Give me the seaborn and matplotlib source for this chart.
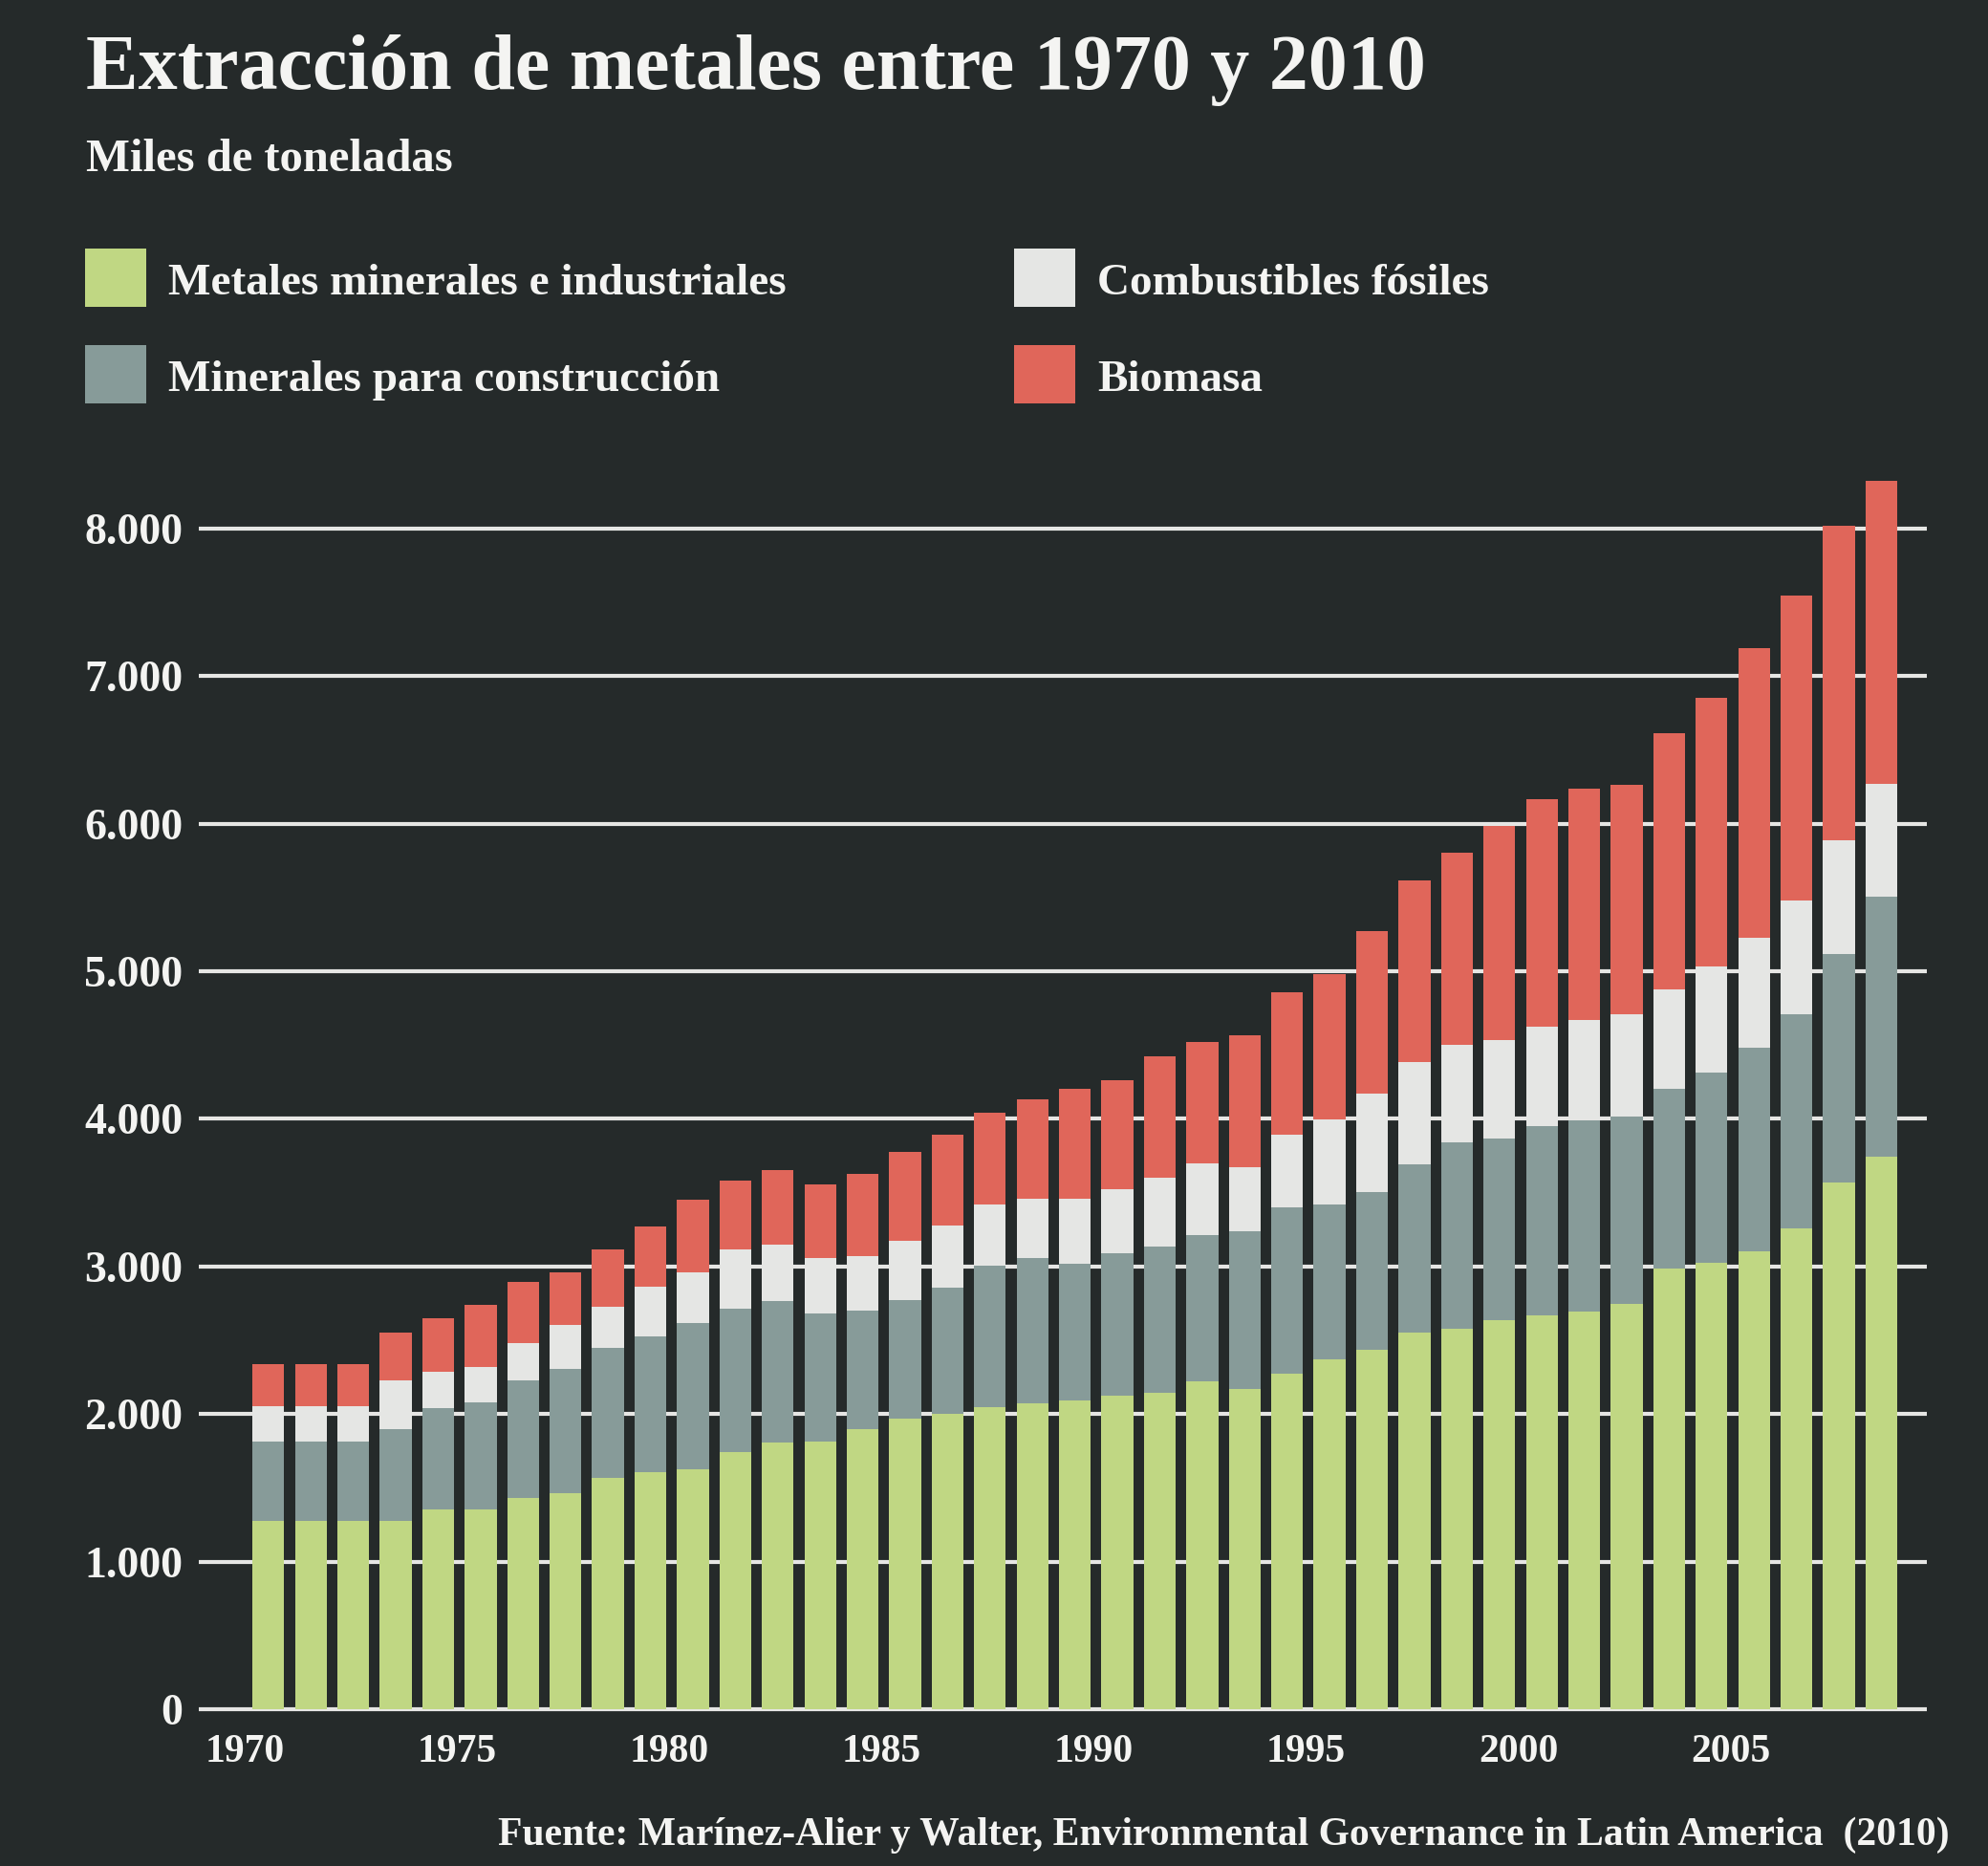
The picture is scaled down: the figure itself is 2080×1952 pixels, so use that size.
import numpy as np
import pandas as pd
import matplotlib.pyplot as plt
from matplotlib.patches import Rectangle
import seaborn as sns

# datos (miles de toneladas)
years = list(range(1970, 2009))
metales = [1275, 1275, 1275, 1275, 1353, 1353, 1433, 1465, 1567, 1605,
           1626, 1743, 1806, 1812, 1896, 1968, 2003, 2049, 2072, 2090,
           2123, 2145, 2224, 2173, 2271, 2373, 2435, 2553, 2576, 2635,
           2667, 2697, 2747, 2987, 3026, 3104, 3261, 3568, 3746]
construccion = [540, 538, 538, 622, 686, 726, 796, 844, 884, 921,
                994, 974, 957, 873, 803, 807, 855, 954, 983, 930,
                970, 988, 988, 1066, 1129, 1047, 1067, 1137, 1263, 1232,
                1282, 1295, 1268, 1217, 1290, 1380, 1446, 1552, 1759]
combustibles = [238, 240, 240, 332, 249, 238, 252, 292, 273, 340,
                340, 399, 382, 370, 373, 396, 422, 416, 402, 442,
                430, 467, 486, 432, 494, 576, 667, 698, 663, 666,
                675, 681, 697, 676, 720, 742, 776, 765, 765]
biomasa = [284, 285, 285, 321, 364, 421, 412, 362, 389, 402,
           495, 468, 511, 503, 558, 604, 610, 624, 673, 743,
           737, 824, 824, 894, 961, 988, 1102, 1228, 1302, 1455,
           1540, 1564, 1553, 1731, 1815, 1965, 2066, 2133, 2055]

series_names = ["Metales minerales e industriales", "Minerales para construcción",
                "Combustibles fósiles", "Biomasa"]
series_colors = ["#c0d783", "#879b99", "#e5e6e4", "#e0665a"]

ytick_values = [0, 1000, 2000, 3000, 4000, 5000, 6000, 7000, 8000]
ytick_labels = ["0", "1.000", "2.000", "3.000", "4.000", "5.000", "6.000", "7.000", "8.000"]
xtick_years = [1970, 1975, 1980, 1985, 1990, 1995, 2000, 2005]

bg = "#252a2a"
txt = "#f4f4f2"

sns.set_style("dark", {"axes.facecolor": bg, "figure.facecolor": bg})
plt.rcParams["font.family"] = ["Liberation Serif", "DejaVu Serif"]
plt.rcParams["font.weight"] = "bold"

df = pd.DataFrame({"year": [str(y) for y in years],
                   "metales": metales, "construccion": construccion,
                   "combustibles": combustibles, "biomasa": biomasa})
layers = df[["metales", "construccion", "combustibles", "biomasa"]].to_numpy().T
tops = np.cumsum(layers, axis=0)

fig = plt.figure(figsize=(20.8, 19.52), dpi=100, facecolor=bg)
ax = fig.add_axes([0.1, 0.082, 0.869, 0.6664])
ax.set_facecolor(bg)

# barras apiladas: primero el total, luego cada capa encima
for i in range(3, -1, -1):
    sns.barplot(x=df["year"], y=tops[i], color=series_colors[i], saturation=1,
                width=0.75, errorbar=None, linewidth=0, ax=ax)

ax.set_xlim(-1.64, 39.06)
ax.set_ylim(-25, 8400)
ax.set_xticks([years.index(y) - 0.55 for y in xtick_years], [str(y) for y in xtick_years])
ax.set_yticks(ytick_values, ytick_labels)
ax.tick_params(axis="x", length=0, pad=16, labelsize=30, colors=txt)
ax.tick_params(axis="y", length=0, pad=12, labelsize=33, colors=txt)
ax.grid(axis="y", color="#e6e6e4", lw=3)
ax.grid(axis="x", visible=False)
ax.set_axisbelow(True)
ax.set_xlabel("")
ax.set_ylabel("")
for s in ax.spines.values():
    s.set_visible(False)

# titulos
fig.text(0.0433, 0.9524, "Extracción de metales entre 1970 y 2010", fontsize=59,
         color=txt, fontweight="bold", va="baseline")
fig.text(0.0433, 0.9083, "Miles de toneladas", fontsize=35, color=txt, va="baseline")

# leyenda manual
legend_pos = [(0.0428, 0.8356), (0.0428, 0.7838), (0.5101, 0.8356), (0.5101, 0.7838)]
for (lx, ly), name, col in zip(legend_pos, series_names, series_colors):
    fig.add_artist(Rectangle((lx, ly), 0.0308, 0.0313, transform=fig.transFigure,
                             facecolor=col, edgecolor="none"))
    fig.text(lx + 0.0418, ly + 0.0122, name, fontsize=34, color=txt, va="center")

fig.text(0.9808, 0.0113, "Fuente: Marínez-Alier y Walter, Environmental Governance in Latin America  (2010)",
         fontsize=30, color=txt, ha="right", va="baseline")

fig.savefig("out.png", dpi=100, facecolor=bg)
